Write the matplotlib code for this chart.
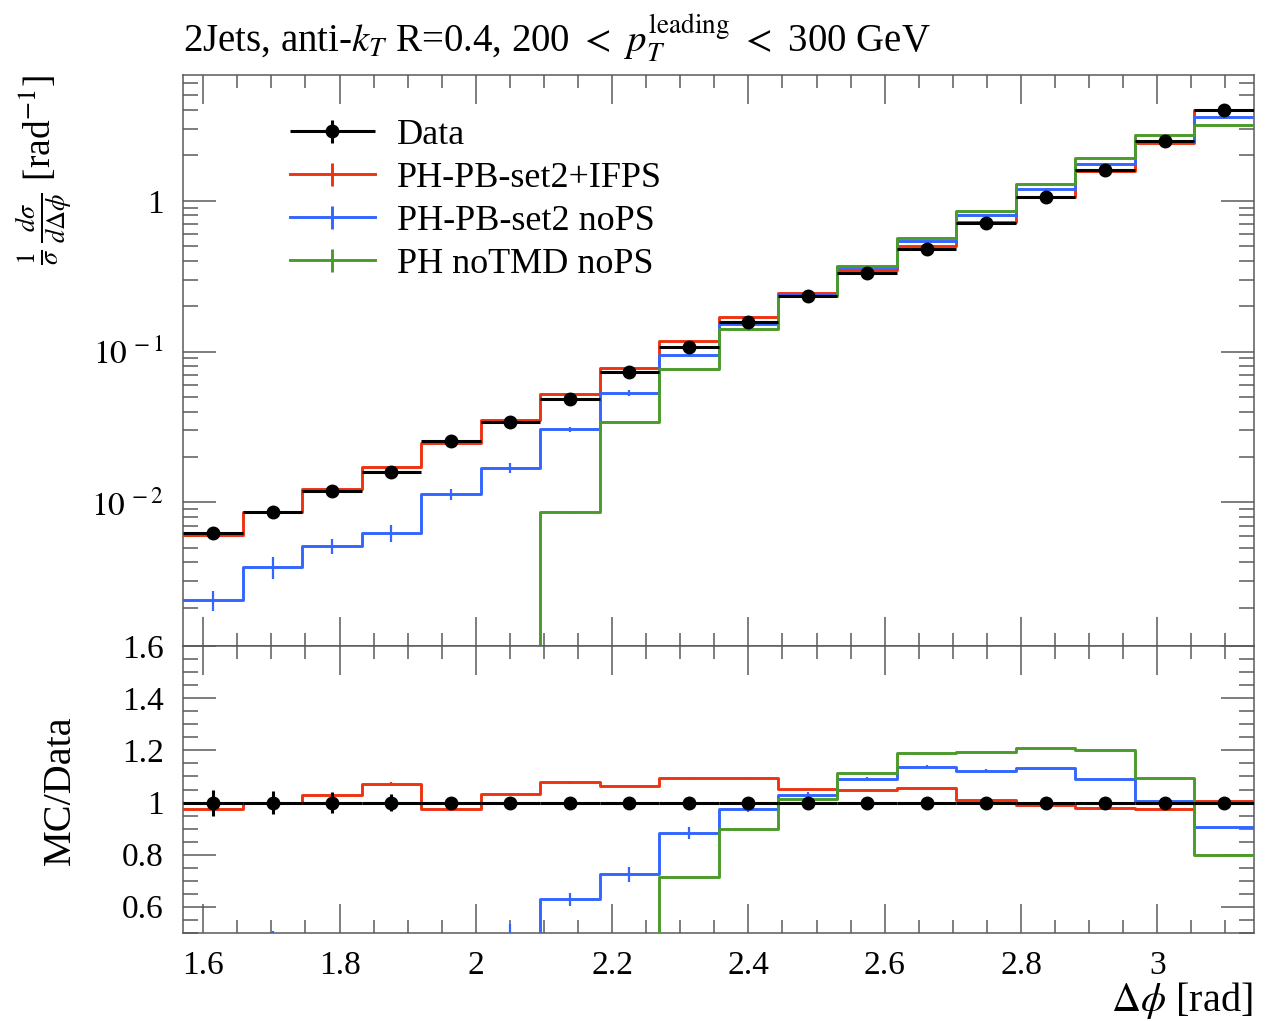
import numpy as np
import matplotlib.pyplot as plt
from matplotlib.ticker import MultipleLocator, LogLocator, FuncFormatter, NullFormatter
from matplotlib.legend_handler import HandlerErrorbar

plt.rcParams['font.family'] = ['Liberation Serif', 'DejaVu Serif']
plt.rcParams['mathtext.fontset'] = 'stix'

# Delta phi bins, pi/2 .. pi in 18 steps
edges = np.linspace(np.pi / 2, np.pi, 19)
centres = 0.5 * (edges[1:] + edges[:-1])
halfwidth = 0.5 * (edges[1:] - edges[:-1])

# Normalised cross section
data = np.array([0.00626, 0.00859, 0.0119, 0.0159, 0.0254, 0.0342, 0.0486, 0.0733, 0.107,
                 0.156, 0.232, 0.332, 0.476, 0.715, 1.063, 1.60, 2.49, 4.0])
data_relerr = np.array([0.05, 0.045, 0.04, 0.034, 0.018, 0.014, 0.01, 0.01, 0.01,
                        0.01, 0.01, 0.01, 0.01, 0.01, 0.01, 0.01, 0.01, 0.01])

# PH-PB-set2+IFPS
ifps = np.array([0.00610, 0.00857, 0.01226, 0.01704, 0.02477, 0.03529, 0.05234, 0.07784, 0.1171,
                 0.1707, 0.2443, 0.3483, 0.5022, 0.7222, 1.0534, 1.5648, 2.4278, 4.016])
ifps_relerr = np.array([0.01, 0.008, 0.007, 0.006, 0.005, 0.004, 0.004, 0.003, 0.003,
                        0.003, 0.003, 0.003, 0.003, 0.002, 0.002, 0.002, 0.002, 0.002])

# PH-PB-set2 noPS
set2 = np.array([0.00224, 0.00373, 0.00514, 0.0063, 0.01132, 0.0169, 0.0305, 0.0531, 0.0944,
                 0.1521, 0.239, 0.3619, 0.5417, 0.8029, 1.2023, 1.744, 2.505, 3.62])
set2_relerr = np.array([0.15, 0.17, 0.12, 0.13, 0.09, 0.08, 0.04, 0.04, 0.025,
                        0.013, 0.01, 0.008, 0.006, 0.005, 0.005, 0.004, 0.004, 0.003])

# PH noTMD noPS (empty below 2.09)
notmd = np.array([0, 0, 0, 0, 0, 0, 0.00859, 0.034, 0.0762,
                  0.1402, 0.235, 0.3695, 0.5664, 0.8551, 1.2841, 1.9248, 2.724, 3.196])
notmd_relerr = np.array([0, 0, 0, 0, 0, 0, 0.02, 0.01, 0.005,
                         0.004, 0.003, 0.003, 0.003, 0.002, 0.002, 0.002, 0.002, 0.002])

mc = [
    ("PH-PB-set2+IFPS", ifps, ifps_relerr, "#EE3311"),
    ("PH-PB-set2 noPS", set2, set2_relerr, "#3366FF"),
    ("PH noTMD noPS", notmd, notmd_relerr, "#4C9A2A"),
]

W, H = 1277, 1021
fig = plt.figure(figsize=(W / 100, H / 100), dpi=100)
left, right = 183.3 / W, 1253.8 / W
ax = fig.add_axes([left, 1 - 646.3 / H, right - left, (646.3 - 75) / H])
rax = fig.add_axes([left, 1 - 932.7 / H, right - left, (932.7 - 646.3) / H])

tickgrey = "#5a5a5a"
lw = 2.1

# ---- main panel
for label, vals, rel, col in mc:
    ax.step(edges, np.append(vals, vals[-1]), where="post", color=col, lw=lw, zorder=3)
    ax.errorbar(centres, vals, yerr=vals * rel, fmt="none", ecolor=col, elinewidth=1.6, zorder=3)

dat = ax.errorbar(centres, data, xerr=halfwidth, yerr=data * data_relerr, fmt="o", color="black",
                  ms=9, elinewidth=2.2, capsize=0, zorder=4, label="Data")

# legend proxies for the MC lines
handles = [dat]
for label, vals, rel, col in mc:
    h = ax.errorbar([np.nan], [np.nan], yerr=[1], color=col, lw=lw, elinewidth=lw, label=label)
    handles.append(h)

ax.set_yscale("log")
ax.set_xlim(np.pi / 2, np.pi)
ax.set_ylim(0.00111, 6.83)
ax.yaxis.set_major_locator(LogLocator(base=10))
ax.yaxis.set_minor_locator(LogLocator(base=10, subs=np.arange(2, 10)))
ax.yaxis.set_minor_formatter(NullFormatter())


def logfmt(v, pos):
    e = int(round(np.log10(v)))
    if e == 0:
        return "1"
    return r"$10^{\,%d}$" % e


ax.yaxis.set_major_formatter(FuncFormatter(logfmt))
ax.tick_params(axis="x", labelbottom=False)

leg = ax.legend(handles=handles, loc="upper left", bbox_to_anchor=(0.0997, 0.924),
                frameon=False, fontsize=26, handlelength=2.35, handletextpad=0.61,
                labelspacing=0.27, borderpad=0, borderaxespad=0,
                handler_map={type(dat): HandlerErrorbar(xerr_size=1.18, yerr_size=0.32)})

# ---- ratio panel
rax.errorbar(centres, np.ones_like(data), xerr=halfwidth, yerr=data_relerr, fmt="o", color="black",
             ms=9, elinewidth=2.2, capsize=0, zorder=4)
for label, vals, rel, col in mc:
    ratio = vals / data
    rax.step(edges, np.append(ratio, ratio[-1]), where="post", color=col, lw=lw, zorder=3)
    rax.errorbar(centres, ratio, yerr=ratio * rel, fmt="none", ecolor=col, elinewidth=1.6, zorder=3)

rax.set_xlim(np.pi / 2, np.pi)
rax.set_ylim(0.5, 1.6)
rax.yaxis.set_major_locator(MultipleLocator(0.2))
rax.yaxis.set_minor_locator(MultipleLocator(0.05))
rax.yaxis.set_major_formatter(FuncFormatter(lambda v, p: "%g" % round(v, 2)))
rax.xaxis.set_major_formatter(FuncFormatter(lambda v, p: "%g" % round(v, 2)))

for a in (ax, rax):
    a.xaxis.set_major_locator(MultipleLocator(0.2))
    a.xaxis.set_minor_locator(MultipleLocator(0.05))
    a.tick_params(which="both", direction="in", top=True, right=True, color=tickgrey,
                  width=1.1, labelsize=24)
    a.tick_params(axis="x", which="major", length=21, pad=13)
    a.tick_params(axis="x", which="minor", length=9.5)
    a.tick_params(axis="y", which="major", length=24, pad=14)
    a.tick_params(axis="y", which="minor", length=11)
    for s in a.spines.values():
        s.set_color(tickgrey)
        s.set_linewidth(1.1)

# ---- labels
fig.text(183 / W, 1 - 38 / H,
         r"2Jets, anti-$k_T$ R=0.4, 200 $<$ $p_T^{\mathrm{leading}}$ $<$ 300 GeV",
         ha="left", va="center", fontsize=28)
fig.text(45 / W, 1 - 75 / H, r"$\frac{1}{\sigma}\,\frac{d\sigma}{d\Delta\phi}$ [rad$^{-1}$]",
         rotation=90, ha="center", va="top", fontsize=27)
fig.text(60 / W, 1 - 790 / H, "MC/Data", rotation=90, ha="center", va="center", fontsize=29)
fig.text(1253 / W, 1 - 1000 / H, r"$\Delta\phi$ [rad]", ha="right", va="center", fontsize=29)

fig.savefig("out.png", dpi=100)
